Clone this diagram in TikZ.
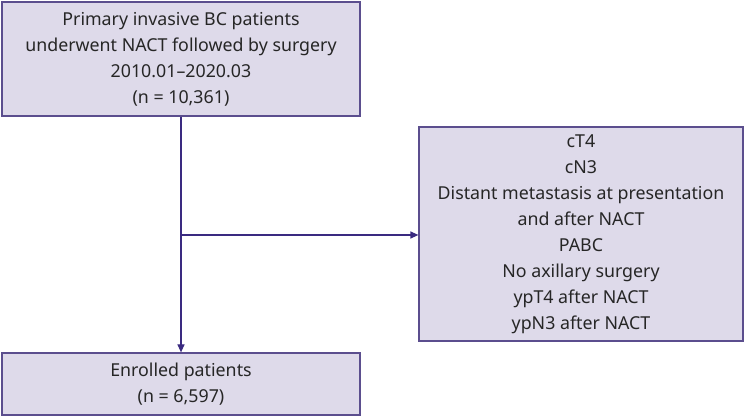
\documentclass[tikz,border=0pt]{standalone}
\usepackage{fontspec}
\setmainfont{Noto Sans}
\usetikzlibrary{arrows.meta}
\definecolor{boxfill}{HTML}{DEDAEA}
\definecolor{boxline}{HTML}{5B4E8E}
\definecolor{arrowline}{HTML}{3A2A80}
\begin{document}
\begin{tikzpicture}[x=1pt,y=1pt,
  flowbox/.style={draw=boxline, line width=1.2pt, fill=boxfill, align=center, inner sep=0pt,
     font=\fontsize{17.8}{26}\selectfont, text=black!85},
  conn/.style={draw=arrowline, line width=1.2pt, -{Triangle[length=8pt,width=7pt]}}]
\useasboundingbox (0,0) rectangle (745,417);
\node[flowbox, minimum width=358pt, minimum height=114pt] (top) at (181,358)
  {Primary invasive BC patients\\underwent NACT followed by surgery\\2010.01--2020.03\\(n = 10,361)};
\node[flowbox, minimum width=324pt, minimum height=214pt] (excl) at (581,183)
  {cT4\\cN3\\Distant metastasis at presentation\\and after NACT\\PABC\\No axillary surgery\\ypT4 after NACT\\ypN3 after NACT};
\node[flowbox, minimum width=358pt, minimum height=62pt] (enr) at (181,33)
  {Enrolled patients\\(n = 6,597)};
\coordinate (branch) at (181,182);
\draw[conn] (top.south) -- (enr.north);
\draw[conn] (branch) -- (excl.west |- branch);
\end{tikzpicture}
\end{document}
